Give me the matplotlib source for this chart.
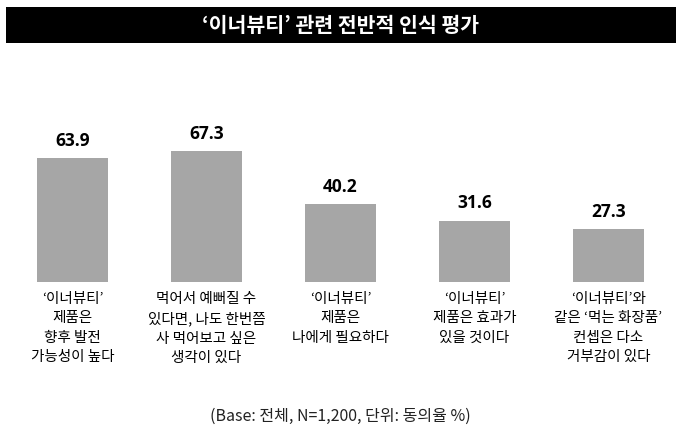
import matplotlib
matplotlib.use('Agg')
import matplotlib.pyplot as plt
from matplotlib.patches import Rectangle

plt.rcParams['font.family'] = ['Noto Sans CJK KR', 'DejaVu Sans']

# 데이터
categories = [
    "‘이너뷰티’\n제품은\n향후 발전\n가능성이 높다",
    "먹어서 예뻐질 수\n있다면, 나도 한번쯤\n사 먹어보고 싶은\n생각이 있다",
    "‘이너뷰티’\n제품은\n나에게 필요하다",
    "‘이너뷰티’\n제품은 효과가\n있을 것이다",
    "‘이너뷰티’와\n같은 ‘먹는 화장품’\n컨셉은 다소\n거부감이 있다",
]
values = [63.9, 67.3, 40.2, 31.6, 27.3]

W, H = 681, 444
fig = plt.figure(figsize=(W / 100, H / 100), dpi=100)

# 상단 제목 바
fig.patches.append(Rectangle((6 / W, 1 - 43 / H), 670 / W, 36 / H,
                             transform=fig.transFigure, facecolor='black',
                             edgecolor='none'))
fig.text(0.5, 1 - 25 / H, "‘이너뷰티’ 관련 전반적 인식 평가", color='white',
         fontsize=14.8, fontweight='bold', ha='center', va='center')

# 막대 영역: 바닥 y=282px, 1.94px/단위
bottom_px = 282
ymax = 80
ax_h = ymax * 1.94
ax = fig.add_axes([5.5 / W, 1 - bottom_px / H, 670 / W, ax_h / H])

x = range(len(values))
bars = ax.bar(x, values, width=0.53, color='#a6a6a6')
for b, v in zip(bars, values):
    ax.annotate(f'{v:.1f}', (b.get_x() + b.get_width() / 2, v),
                xytext=(0, 6), textcoords='offset points',
                ha='center', va='bottom', fontsize=12.5, fontweight='bold',
                family=['Open Sans', 'DejaVu Sans'])

ax.set_xlim(-0.5, len(values) - 0.5)
ax.set_ylim(0, ymax)
ax.set_xticks(list(x))
ax.set_xticklabels(categories, fontsize=10.5, linespacing=1.5)
ax.tick_params(axis='x', length=0, pad=7)
ax.set_yticks([])
for s in ax.spines.values():
    s.set_visible(False)

fig.text(0.5, 1 - 416 / H, "(Base: 전체, N=1,200, 단위: 동의율 %)",
         fontsize=11.5, ha='center', va='center', color='#222222')

fig.savefig('out.png', dpi=100)
